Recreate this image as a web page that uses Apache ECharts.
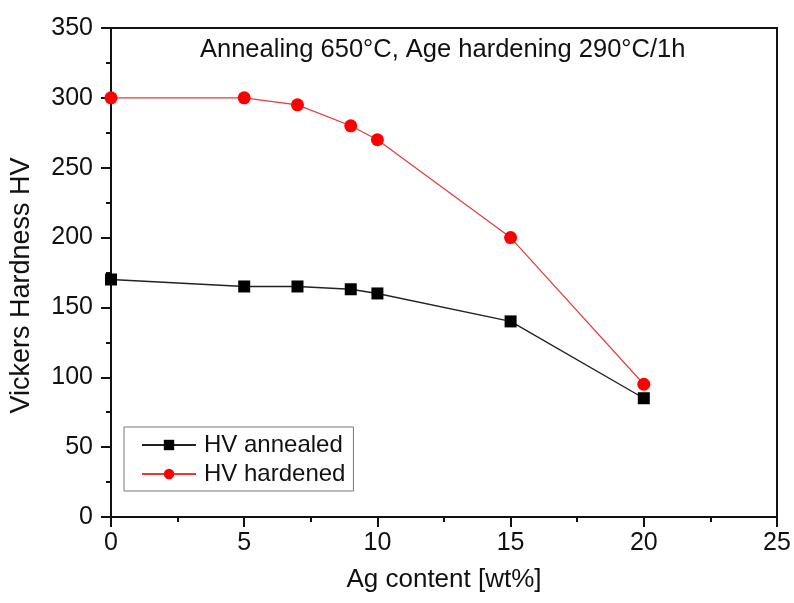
<!DOCTYPE html>
<html>
<head>
<meta charset="utf-8">
<script src="https://cdn.jsdelivr.net/npm/echarts@6/dist/echarts.min.js"></script>
<style>
  html, body { margin: 0; padding: 0; background: #fff; }
  #chart { width: 794px; height: 603px; }
</style>
</head>
<body>
<div id="chart"></div>
<script>
// Ag content (wt%)
var agContent = [0, 5, 7, 9, 10, 15, 20];
// Vickers hardness values
var hvAnnealed = [170, 165, 165, 163, 160, 140, 85];
var hvHardened = [300, 300, 295, 280, 270, 200, 95];

var toPairs = function (xs, ys) {
    var out = [];
    for (var i = 0; i < xs.length; i++) {
        out.push([xs[i], ys[i]]);
    }
    return out;
};

var font = 'Liberation Sans, Arial, sans-serif';

var myChart = echarts.init(document.getElementById('chart'));
var option = {
    animation: false,
    backgroundColor: '#fff',
    textStyle: { fontFamily: font },
    title: {
        text: 'Annealing 650°C, Age hardening 290°C/1h',
        left: 200,
        top: 37,
        padding: 0,
        textStyle: { fontFamily: font, fontSize: 25.5, fontWeight: 'normal', color: '#111' }
    },
    grid: {
        left: 111, right: 17, top: 28, bottom: 86,
        show: true,
        borderColor: '#111',
        borderWidth: 2
    },
    legend: {
        orient: 'vertical',
        left: 124,
        top: 427,
        padding: [6, 8, 5, 17],
        itemGap: 5,
        itemWidth: 54,
        itemHeight: 13,
        borderColor: '#777',
        borderWidth: 1,
        textStyle: { fontFamily: font, fontSize: 24, color: '#111', padding: [0, 0, 0, 3] },
        data: ['HV annealed', 'HV hardened']
    },
    xAxis: {
        type: 'value',
        min: 0, max: 25, interval: 5,
        name: 'Ag content [wt%]',
        nameLocation: 'middle',
        nameGap: 50,
        nameTextStyle: { fontFamily: font, fontSize: 26, color: '#111' },
        axisLine: { onZero: false, lineStyle: { color: '#111', width: 2 } },
        axisTick: { inside: false, length: 10, lineStyle: { color: '#111', width: 2 } },
        minorTick: { show: true, splitNumber: 2, length: 5, lineStyle: { color: '#111', width: 2 } },
        axisLabel: { margin: 14, fontFamily: font, fontSize: 25, color: '#111' },
        splitLine: { show: false }
    },
    yAxis: {
        type: 'value',
        min: 0, max: 350, interval: 50,
        name: 'Vickers Hardness HV',
        nameLocation: 'middle',
        nameGap: 76,
        nameTextStyle: { fontFamily: font, fontSize: 27, color: '#111', padding: [0, 26, 0, 0] },
        axisLine: { show: true, onZero: false, lineStyle: { color: '#111', width: 2 } },
        axisTick: { show: true, inside: false, length: 10, lineStyle: { color: '#111', width: 2 } },
        minorTick: { show: true, splitNumber: 2, length: 5, lineStyle: { color: '#111', width: 2 } },
        axisLabel: { margin: 18, fontFamily: font, fontSize: 25, color: '#111' },
        splitLine: { show: false }
    },
    series: [
        {
            name: 'HV annealed',
            type: 'line',
            data: toPairs(agContent, hvAnnealed),
            symbol: 'rect',
            symbolSize: 12,
            itemStyle: { color: '#000' },
            lineStyle: { color: '#222', width: 1.4 }
        },
        {
            name: 'HV hardened',
            type: 'line',
            data: toPairs(agContent, hvHardened),
            symbol: 'circle',
            symbolSize: 13,
            itemStyle: { color: '#ff0000' },
            lineStyle: { color: '#e03c3c', width: 1.2 }
        }
    ]
};
myChart.setOption(option);
</script>
</body>
</html>
